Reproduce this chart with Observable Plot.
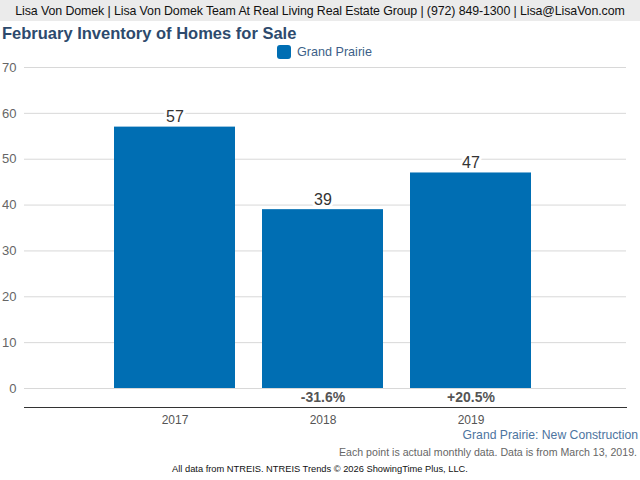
<!DOCTYPE html>
<html>
<head>
<meta charset="utf-8">
<script src="https://cdn.jsdelivr.net/npm/d3@7"></script>
<script src="https://cdn.jsdelivr.net/npm/@observablehq/plot@0.6"></script>
<style>
  body { margin: 0; width: 640px; height: 480px; overflow: hidden; background: #fff; font-family: "Liberation Sans", Arial, sans-serif; position: relative; }
  .abs { position: absolute; white-space: nowrap; }
  #header { left: 0; top: 0; width: 640px; height: 21px; background: #ebebeb; color: #111; font-size: 12.4px; line-height: 22px; text-align: center; letter-spacing: -0.1px; }
  #title { left: 2px; top: 24px; font-size: 16.5px; font-weight: bold; color: #2d4a6d; }
  #legend { left: 277px; top: 45px; font-size: 12.6px; color: #3d5f88; display: flex; align-items: center; }
  #legend .sw { width: 14px; height: 14px; background: #006eb3; border-radius: 3px; margin-right: 6px; }
  #chart { left: 0; top: 60px; }
  #sub1 { right: 2px; top: 428px; font-size: 12.2px; color: #4d74a0; }
  #sub2 { right: 3px; top: 446px; font-size: 10.6px; color: #666; }
  #foot { left: 0; width: 640px; top: 464px; font-size: 9.3px; color: #111; text-align: center; }
</style>
</head>
<body>
<div id="header" class="abs">Lisa Von Domek | Lisa Von Domek Team At Real Living Real Estate Group | (972) 849-1300 | Lisa@LisaVon.com</div>
<div id="title" class="abs">February Inventory of Homes for Sale</div>
<div id="legend" class="abs"><span class="sw"></span><span>Grand Prairie</span></div>
<div id="chart" class="abs"></div>
<div id="sub1" class="abs">Grand Prairie: New Construction</div>
<div id="sub2" class="abs">Each point is actual monthly data. Data is from March 13, 2019.</div>
<div id="foot" class="abs">All data from NTREIS. NTREIS Trends © 2026 ShowingTime Plus, LLC.</div>
<script>
const years = ["2017", "2018", "2019"];
const values = [57, 39, 47];
const changes = ["", "-31.6%", "+20.5%"];
const yTicks = [0, 10, 20, 30, 40, 50, 60, 70];

const data = years.map((y, i) => ({year: y, value: values[i], change: changes[i]}));

const chart = Plot.plot({
  width: 640,
  height: 370,
  marginLeft: 24,
  marginRight: 14,
  marginTop: 7,
  marginBottom: 23,
  style: {fontFamily: "'Liberation Sans', Arial, sans-serif", background: "transparent"},
  x: {domain: years, range: [114, 532], paddingInner: 0.182, paddingOuter: 0, axis: null},
  y: {domain: [0, 70], range: [328, 7], axis: null},
  marks: [
    Plot.ruleY(yTicks, {stroke: "#d8d8d8", strokeWidth: 1}),
    Plot.text(yTicks, {y: d => d, text: d => String(d), frameAnchor: "left", dx: -8, textAnchor: "end", fill: "#666", fontSize: 13}),
    Plot.barY(data, {x: "year", y: "value", fill: "#006eb3"}),
    Plot.text(data, {x: "year", y: "value", text: d => String(d.value), dy: -10, fill: "#333", fontSize: 16, stroke: "white", strokeWidth: 6, paintOrder: "stroke"}),
    Plot.text(data, {x: "year", text: "change", frameAnchor: "bottom", dy: -6, fill: "#555", fontSize: 14, fontWeight: "bold"}),
    Plot.frame({anchor: "bottom", stroke: "#333", strokeWidth: 1}),
    Plot.text(data, {x: "year", text: "year", frameAnchor: "bottom", dy: 16, fill: "#555", fontSize: 12})
  ]
});
document.getElementById("chart").appendChild(chart);
</script>
</body>
</html>
